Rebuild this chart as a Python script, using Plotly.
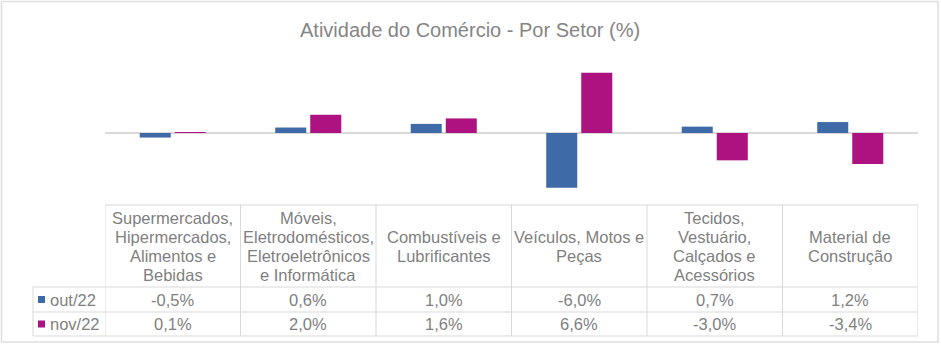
import plotly.graph_objects as go

title = "Atividade do Comércio - Por Setor (%)"
categories = [
    "Supermercados,<br>Hipermercados,<br>Alimentos e<br>Bebidas",
    "Móveis,<br>Eletrodomésticos,<br>Eletroeletrônicos<br>e Informática",
    "Combustíveis e<br>Lubrificantes",
    "Veículos, Motos e<br>Peças",
    "Tecidos,<br>Vestuário,<br>Calçados e<br>Acessórios",
    "Material de<br>Construção",
]
series_names = ["out/22", "nov/22"]
out22 = [-0.5, 0.6, 1.0, -6.0, 0.7, 1.2]
nov22 = [0.1, 2.0, 1.6, 6.6, -3.0, -3.4]
colors = ["#3f6aa8", "#ad1280"]

W, H = 941, 348
L, R, T, B = 105, 918, 61, 205  # plot area in pixels
FONT = "Liberation Sans, Arial, sans-serif"
TXT = "#7f7f7f"
GRID = "#d9d9d9"


def xp(px):
    return (px - L) / (R - L)


def yp(py):
    return (B - py) / (B - T)


fig = go.Figure()
for name, vals, col in zip(series_names, [out22, nov22], colors):
    fig.add_trace(go.Bar(x=categories, y=vals, name=name, marker_color=col,
                         marker_line_width=0, hoverinfo="skip"))

shapes = []
annotations = []

# table grid
hline = dict(type="line", xref="paper", yref="paper", line=dict(color=GRID, width=1))
shapes.append({**hline, "x0": xp(105), "x1": xp(918), "y0": yp(205), "y1": yp(205)})
for py in [287, 312, 336]:
    shapes.append({**hline, "x0": xp(33), "x1": xp(918), "y0": yp(py), "y1": yp(py)})
for i in range(len(categories) + 1):
    shapes.append(dict(type="line", xref="x", yref="paper", x0=i - 0.5, x1=i - 0.5,
                       y0=yp(205), y1=yp(336), line=dict(color=GRID, width=1)))
shapes.append({**hline, "x0": xp(33), "x1": xp(33), "y0": yp(287), "y1": yp(336)})

# outer frame
shapes.append(dict(type="rect", xref="paper", yref="paper", x0=xp(1.5), x1=xp(938),
                   y0=yp(1.5), y1=yp(342), line=dict(color="#dedede", width=1.5)))

# header labels
for i, cat in enumerate(categories):
    lines = cat.split("<br>")
    n = len(lines)
    for k, ln in enumerate(lines):
        cy = 246 + (k - (n - 1) / 2) * 19
        annotations.append(dict(xref="x", yref="paper", x=i, y=yp(cy), text=ln,
                                showarrow=False, xanchor="center", yanchor="middle",
                                font=dict(family=FONT, size=16.5, color=TXT)))

# value rows and legend keys
row_centers = [299.5, 324]
for name, vals, col, cy in zip(series_names, [out22, nov22], colors, row_centers):
    shapes.append(dict(type="rect", xref="paper", yref="paper", x0=xp(38), x1=xp(45),
                       y0=yp(cy - 3.5), y1=yp(cy + 3.5), fillcolor=col, line=dict(width=0)))
    annotations.append(dict(xref="paper", yref="paper", x=xp(48), y=yp(cy), text=name,
                            showarrow=False, xanchor="left", yanchor="middle",
                            font=dict(family=FONT, size=16.5, color=TXT)))
    for i, v in enumerate(vals):
        txt = f"{v:.1f}".replace(".", ",") + "%"
        annotations.append(dict(xref="x", yref="paper", x=i, y=yp(cy), text=txt,
                                showarrow=False, xanchor="center", yanchor="middle",
                                font=dict(family=FONT, size=16.5, color=TXT)))

# title
annotations.append(dict(xref="paper", yref="paper", x=xp(470), y=yp(30), text=title,
                        showarrow=False, xanchor="center", yanchor="middle",
                        font=dict(family=FONT, size=20, color="#858585")))

fig.update_layout(
    width=W, height=H,
    margin=dict(l=L, r=W - R, t=T, b=H - B),
    paper_bgcolor="white", plot_bgcolor="white",
    barmode="group", bargap=0.483, bargroupgap=0.114,
    showlegend=False,
    xaxis=dict(visible=False, range=[-0.5, 5.5], type="category"),
    yaxis=dict(range=[-7.9, 7.9], showticklabels=False, showgrid=False,
               zeroline=True, zerolinecolor=GRID, zerolinewidth=1.5, fixedrange=True),
    shapes=shapes, annotations=annotations,
)

fig.write_html("out.html", config={"displayModeBar": False})
